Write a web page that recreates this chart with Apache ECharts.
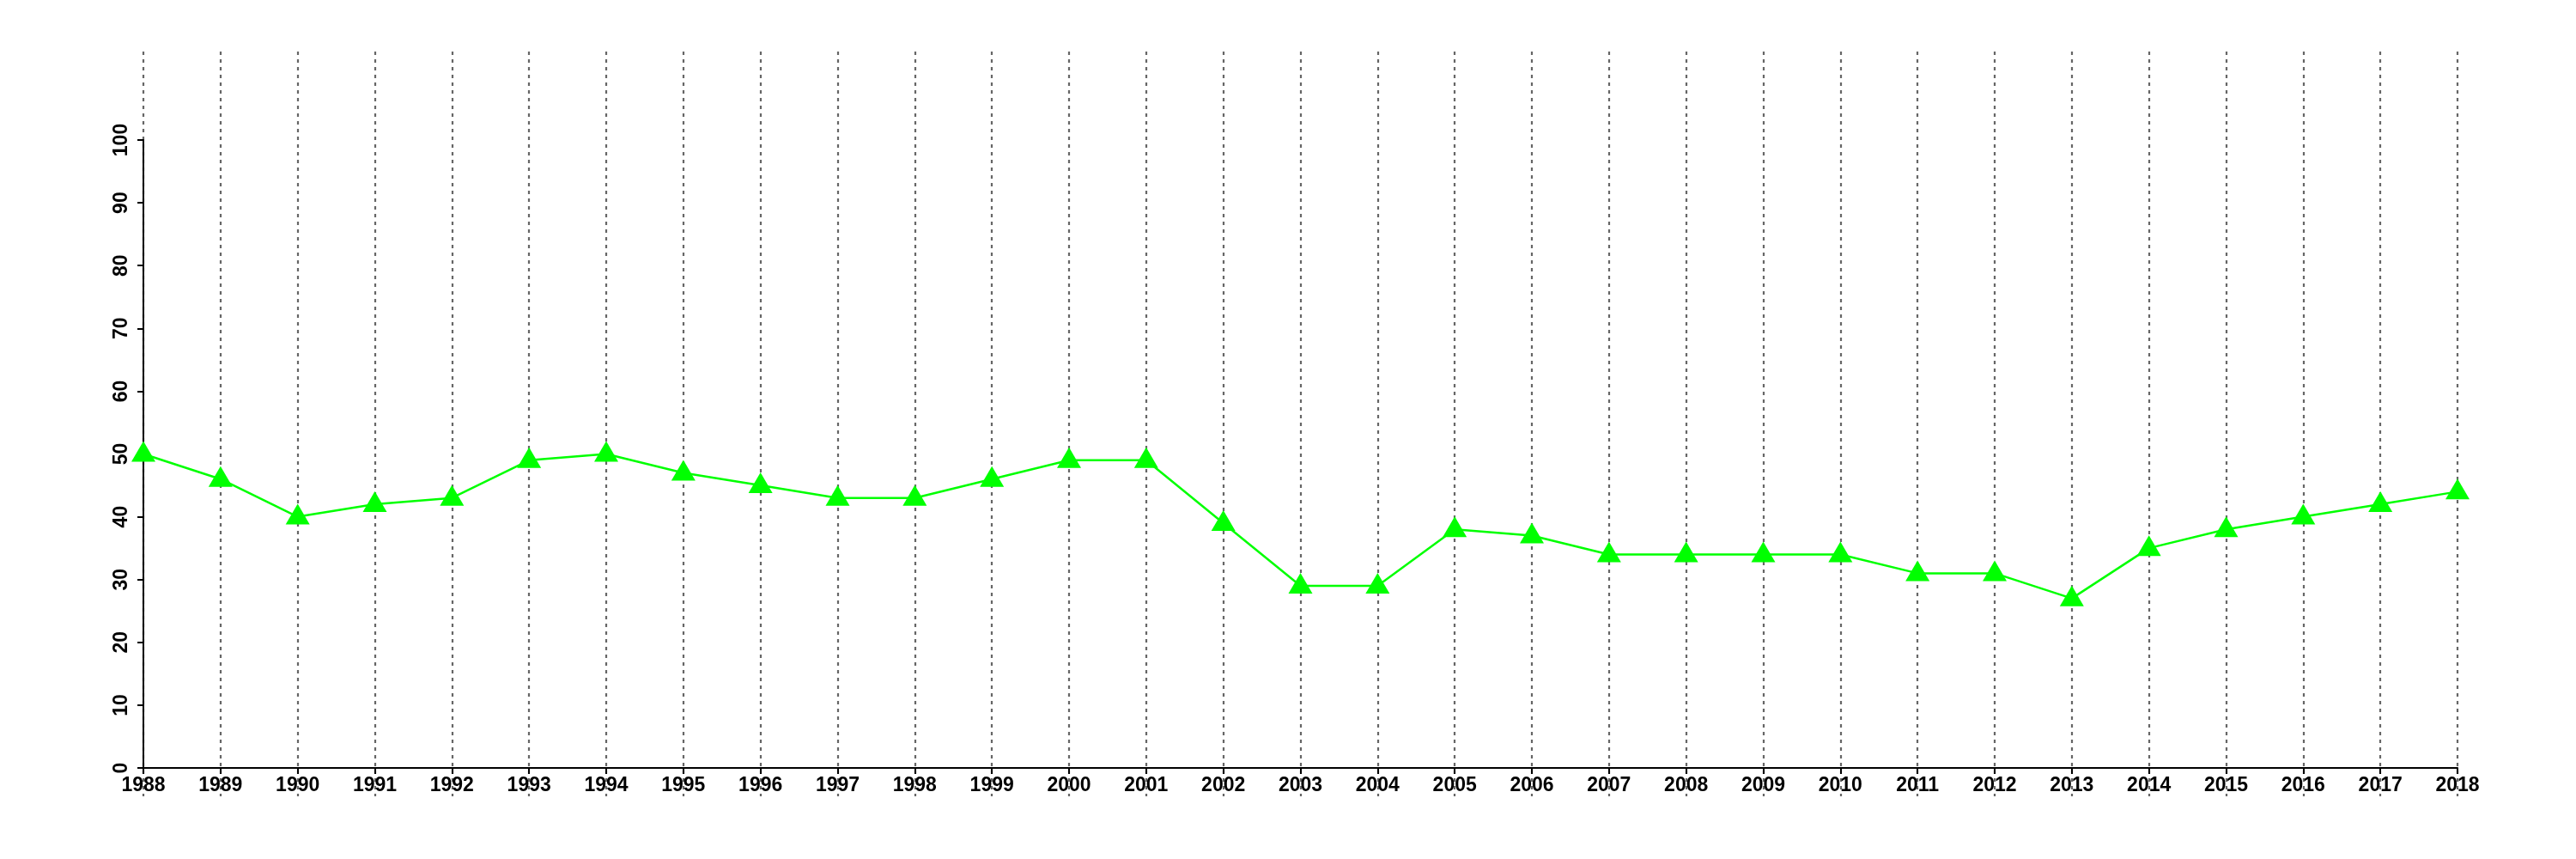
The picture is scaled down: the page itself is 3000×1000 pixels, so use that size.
<!DOCTYPE html>
<html>
<head>
<meta charset="utf-8">
<script src="https://cdn.jsdelivr.net/npm/echarts@6/dist/echarts.min.js"></script>
<style>
html,body{margin:0;padding:0;background:#fff;}
#c{width:3000px;height:1000px;}
</style>
</head>
<body>
<div id="c"></div>
<script>
const years = ['1988','1989','1990','1991','1992','1993','1994','1995','1996','1997','1998','1999','2000','2001','2002','2003','2004','2005','2006','2007','2008','2009','2010','2011','2012','2013','2014','2015','2016','2017','2018'];
const values = [50,46,40,42,43,49,50,47,45,43,43,46,49,49,39,29,29,38,37,34,34,34,34,31,31,27,35,38,40,42,44];
const yMin = 0, yMax = 100, yStep = 10;

const font = {fontFamily:'Liberation Sans', fontWeight:'bold', fontSize:23, color:'#000'};
const chart = echarts.init(document.getElementById('c'), null, {renderer:'canvas'});
chart.setOption({
  animation:false,
  backgroundColor:'#fff',
  grid:[
    {left:167, right:138, top:163, bottom:106},
    {left:167, right:138, top:60, bottom:73}
  ],
  xAxis:[
    {type:'category', gridIndex:0, data:years, boundaryGap:false,
     axisLine:{lineStyle:{color:'#000', width:2}},
     axisTick:{show:true, inside:false, length:7, interval:0, lineStyle:{color:'#000', width:2}},
     axisLabel:Object.assign({interval:0, margin:9}, font),
     splitLine:{show:false}},
    {type:'category', gridIndex:1, data:years, boundaryGap:false,
     axisLine:{show:false}, axisTick:{show:false}, axisLabel:{show:false},
     splitLine:{show:true, interval:0, lineStyle:{color:'#666666', width:2.2, type:[4,5]}}}
  ],
  yAxis:[
    {type:'value', gridIndex:0, min:yMin, max:yMax, interval:yStep,
     axisLine:{show:true, lineStyle:{color:'#000', width:2}},
     axisTick:{show:true, length:7, lineStyle:{color:'#000', width:2}},
     axisLabel:Object.assign({rotate:90, margin:14}, font),
     splitLine:{show:false}},
    {type:'value', gridIndex:1, show:false, splitLine:{show:false}}
  ],
  series:[{
    type:'line', xAxisIndex:0, yAxisIndex:0, data:values,
    lineStyle:{color:'#00ff00', width:2.5},
    itemStyle:{color:'#00ff00'},
    symbol:'triangle', symbolSize:[28,24], symbolOffset:[0,-3],
    z:5
  }]
});
</script>
</body>
</html>
